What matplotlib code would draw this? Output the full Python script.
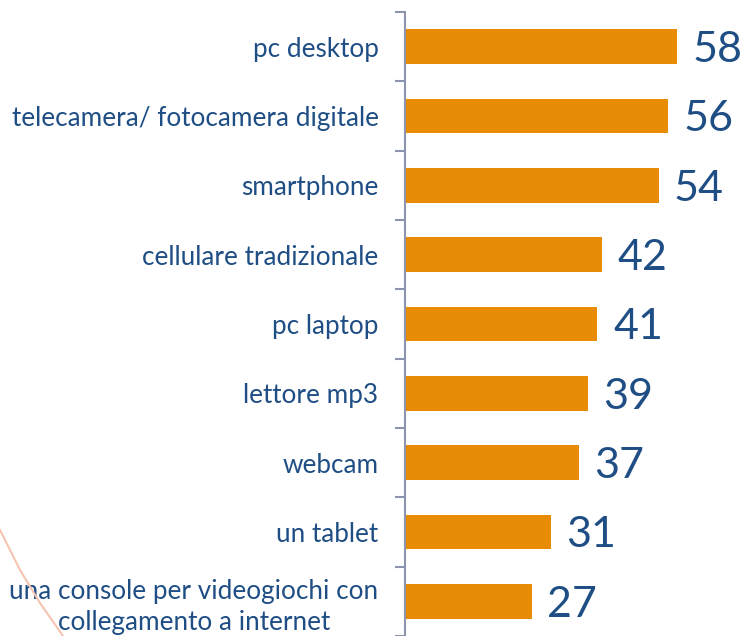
import matplotlib
matplotlib.use("Agg")
from matplotlib import pyplot as plt
from matplotlib.lines import Line2D
import numpy as np

# dispositivi posseduti (%)
categories = ["pc desktop", "telecamera/ fotocamera digitale", "smartphone",
              "cellulare tradizionale", "pc laptop", "lettore mp3", "webcam",
              "un tablet", "una console per videogiochi con\ncollegamento a internet"]
values = [58, 56, 54, 42, 41, 39, 37, 31, 27]

bar_color = "#E88C05"
text_color = "#1F4E85"
axis_color = "#8C94AE"

plt.rcParams['font.family'] = ['Lato', 'DejaVu Sans']

fig = plt.figure(figsize=(7.43, 6.36), dpi=100)
ax = fig.add_axes([405 / 743, 0, 338 / 743, 1 - 12 / 636])

y = np.arange(len(categories))
ax.barh(y, values, height=0.5, color=bar_color)
ax.set_ylim(len(categories) - 0.5, -0.5)
ax.set_xlim(0, 72)

for yi, v in zip(y, values):
    ax.text(v + 3.3, yi + 0.05, str(v), va="center", ha="left",
            fontsize=31, color=text_color)

ax.set_yticks(y)
ax.set_yticklabels(categories, fontsize=18.8, color=text_color, ha="right",
                   multialignment="center", linespacing=1.3)
ax.tick_params(axis="y", which="major", length=0, pad=19)
ax.set_yticks(np.arange(-0.5, len(categories), 1.0), minor=True)
ax.tick_params(axis="y", which="minor", length=7, width=1.5, color=axis_color)
ax.set_xticks([])

for s in ["top", "right", "bottom"]:
    ax.spines[s].set_visible(False)
ax.spines["left"].set_color(axis_color)
ax.spines["left"].set_linewidth(1.5)

# arco decorativo
fig.add_artist(Line2D([0, 20 / 743, 40 / 743, 63 / 743],
                      [1 - 530 / 636, 1 - 570 / 636, 1 - 603 / 636, 0],
                      transform=fig.transFigure, color="#F5C4B0", lw=1.5))

fig.savefig("out.png", dpi=100)
